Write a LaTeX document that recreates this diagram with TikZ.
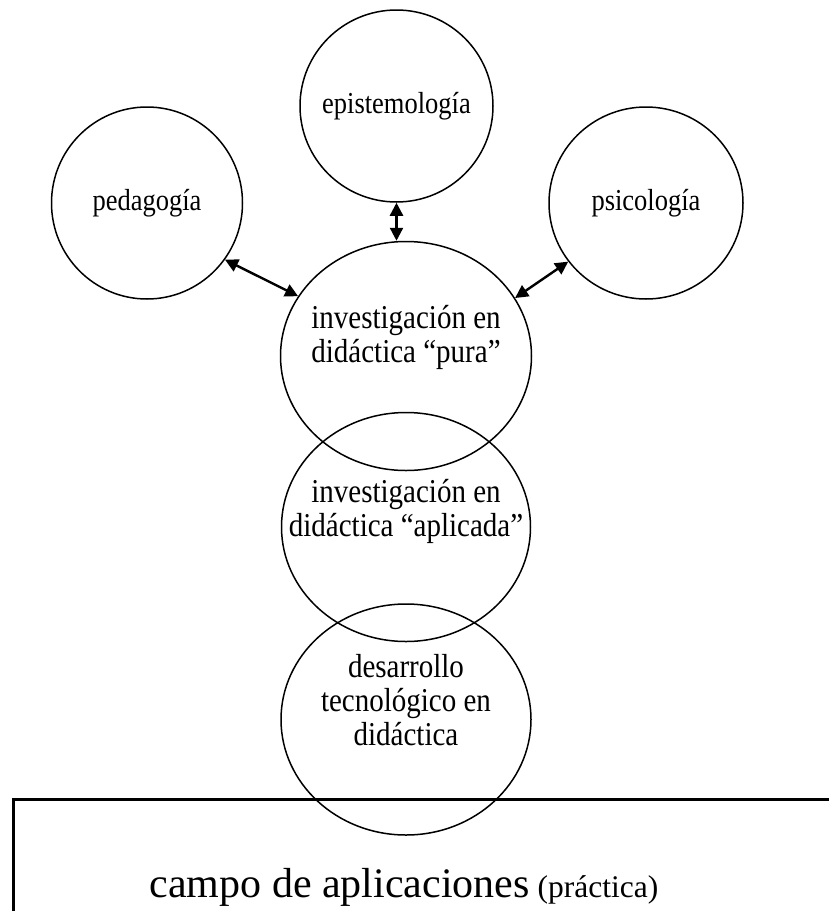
\documentclass[tikz,border=0pt]{standalone}
\usepackage{fontspec}
\setmainfont{Liberation Serif}
\usetikzlibrary{shapes.geometric,arrows.meta,calc}

% slightly tall type for the labels inside the discs
\newcommand{\tallline}[1]{\scalebox{1}[1.15]{#1}}

\begin{document}
\begin{tikzpicture}[x=1pt,y=-1pt,
  ball/.style={ellipse,draw,line width=1.5pt,inner sep=0pt},
  smalltxt/.style={font=\fontsize{26.5}{31}\selectfont,align=center,inner sep=0pt},
  bigtxt/.style={font=\fontsize{29}{34}\selectfont,align=center,inner sep=0pt},
  link/.style={line width=2.4pt,
    {Triangle[length=13pt,width=13pt]}-{Triangle[length=13pt,width=13pt]}}]

\useasboundingbox (0,0) rectangle (829,911);
\clip (0,0) rectangle (829,911);

% surrounding disciplines
\node[ball,minimum width=193pt,minimum height=192pt] (epi) at (396.5,106) {};
\node[ball,minimum width=191pt,minimum height=192pt] (ped) at (147,203) {};
\node[ball,minimum width=194pt,minimum height=192pt] (psi) at (646,203) {};

% chain of didactics research
\node[ball,minimum width=251pt,minimum height=229pt] (pura) at (406,356) {};
\node[ball,minimum width=249pt,minimum height=229pt] (apl) at (406,527) {};
\node[ball,minimum width=250pt,minimum height=231pt] (des) at (406,719.5) {};

% field of application (open to the right and below)
\node[draw,rectangle,line width=2.7pt,inner sep=0pt,anchor=north west,
      minimum width=860pt,minimum height=160pt] (campo) at (12,798) {};

% labels
\node[smalltxt] (epit) at (epi) {\tallline{epistemología}};
\node[smalltxt] (pedt) at (ped) {\tallline{pedagogía}};
\node[smalltxt] (psit) at (psi) {\tallline{psicología}};
\node[bigtxt] (purat) at ($(pura)+(0,-19)$)
  {\tallline{investigación en}\\\tallline{didáctica “pura”}};
\node[bigtxt] (aplt) at ($(apl)+(0,-16)$)
  {\tallline{investigación en}\\\tallline{didáctica “aplicada”}};
\node[bigtxt] (dest) at ($(des)+(0,-19)$)
  {\tallline{desarrollo}\\\tallline{tecnológico en}\\\tallline{didáctica}};
\node[anchor=base,inner sep=0pt,font=\fontsize{42}{46}\selectfont] (campot) at (404,897)
  {campo de aplicaciones{\fontsize{31.5}{35}\selectfont\ (práctica)}};

% two-way links
\draw[link] (ped.-36.9) -- (pura.151.8);
\draw[link] (psi.-143.8) -- (pura.28.9);
\draw[link] (epi.south) -- (epi.south |- pura.north);

\end{tikzpicture}
\end{document}
